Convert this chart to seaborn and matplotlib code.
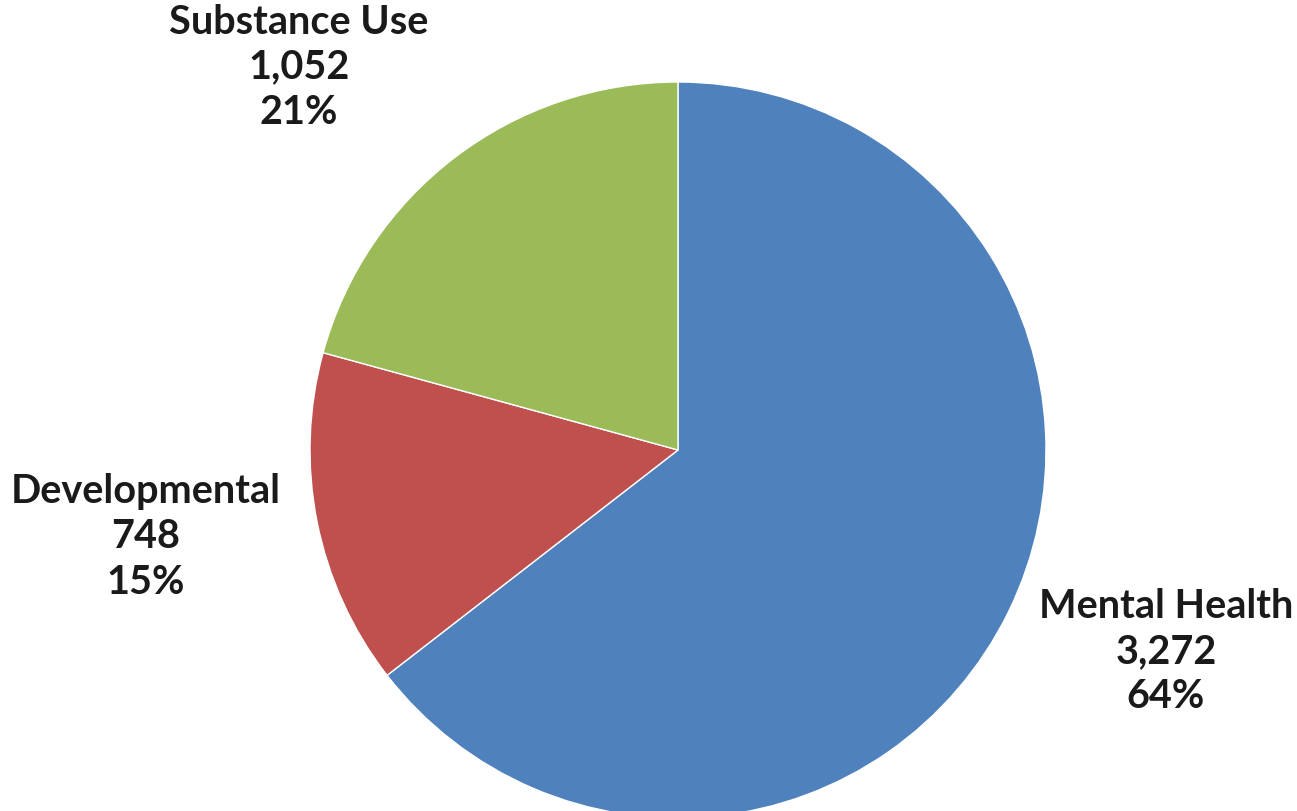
import matplotlib
matplotlib.use("Agg")
import matplotlib.pyplot as plt
import seaborn as sns

# data
categories = ["Mental Health", "Developmental", "Substance Use"]
counts = [3272, 748, 1052]
pct_labels = ["64%", "15%", "21%"]
colors = ["#4F81BD", "#C0504D", "#9BBB59"]

sns.set_theme(style = "white")
plt.rcParams["font.family"] = ["Lato", "DejaVu Sans"]

W, H = 1297, 811
fig = plt.figure(figsize = (W / 100, H / 100), dpi = 100)

# pie centre ~ (678, 450) px, radius ~ 368 px
cx, cy, r = 678, 450, 368
ax = fig.add_axes([(cx - r) / W, (H - cy - r) / H, 2 * r / W, 2 * r / H])
ax.pie(counts, colors = colors, startangle = 90, counterclock = False,
       radius = 1, wedgeprops = dict(edgecolor = "white", linewidth = 1))
ax.set_xlim(-1, 1)
ax.set_ylim(-1, 1)
ax.set_aspect("equal")
ax.axis("off")

# label block positions (centre x, top line centre y) in pixels
label_pos = {"Mental Health": (1166, 607),
             "Developmental": (146, 492),
             "Substance Use": (299, 22)}
for cat, n, p in zip(categories, counts, pct_labels):
    x, y = label_pos[cat]
    for i, line in enumerate([cat, f"{n:,}", p]):
        fig.text(x / W, 1 - (y + 45 * i) / H, line, ha = "center", va = "center",
                 fontsize = 28.5, fontweight = "bold", color = "#1a1a1a")

fig.savefig("out.png", dpi = 100)
